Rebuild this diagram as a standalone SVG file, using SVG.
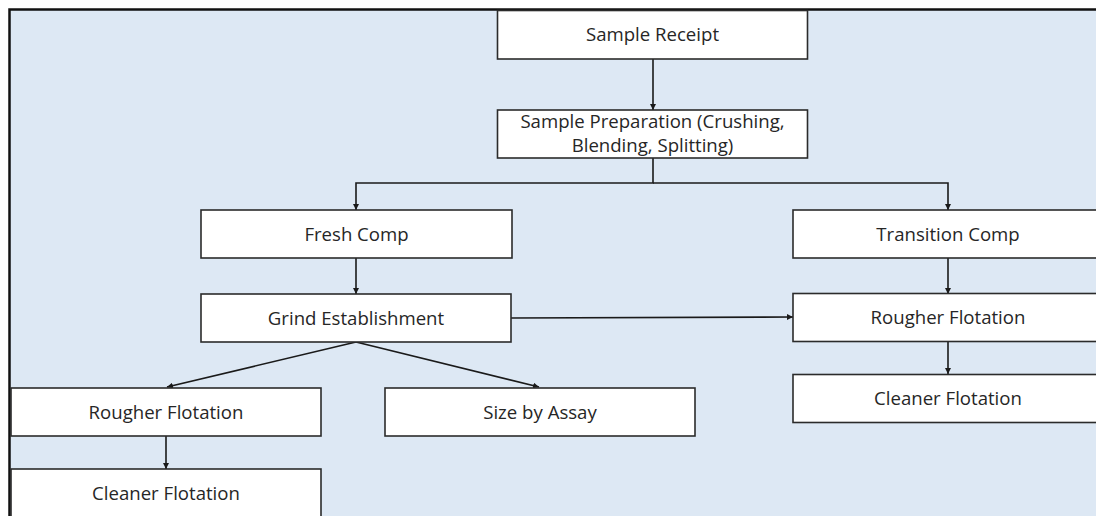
<svg xmlns="http://www.w3.org/2000/svg" width="1096" height="516" viewBox="0 0 1096 516">
<style>
.bx{fill:#ffffff;stroke:#2b2b2b;stroke-width:1.6}
.t{font-family:"Open Sans","Liberation Sans",sans-serif;font-size:18.6px;fill:#262626;text-anchor:middle}
.c{fill:none;stroke:#1a1a1a;stroke-width:1.6}
</style>
<defs>
<marker id="ah" viewBox="0 0 10 10" refX="10" refY="5" markerWidth="6" markerHeight="6" markerUnits="userSpaceOnUse" orient="auto">
<path d="M0,0 L10,5 L0,10 z" fill="#1a1a1a"/>
</marker>
</defs>
<rect x="0" y="0" width="1096" height="516" fill="#ffffff"/>
<rect id="panel" x="9.5" y="9.5" width="1100" height="520" fill="#dde8f4" stroke="#111" stroke-width="2.5"/>
<g id="connectors">
<line class="c" x1="653" y1="59" x2="653" y2="110" marker-end="url(#ah)"/>
<polyline class="c" points="653,158 653,183 356,183 356,210" marker-end="url(#ah)"/>
<polyline class="c" points="653,183 948,183 948,210" marker-end="url(#ah)"/>
<line class="c" x1="356" y1="258" x2="356" y2="294" marker-end="url(#ah)"/>
<line class="c" x1="948" y1="258" x2="948" y2="294" marker-end="url(#ah)"/>
<line class="c" x1="511" y1="318" x2="793" y2="317" marker-end="url(#ah)"/>
<line class="c" x1="948" y1="341" x2="948" y2="374" marker-end="url(#ah)"/>
<line class="c" x1="356" y1="342" x2="167" y2="387" marker-end="url(#ah)"/>
<line class="c" x1="356" y1="342" x2="539" y2="387" marker-end="url(#ah)"/>
<line class="c" x1="166" y1="436" x2="166" y2="469" marker-end="url(#ah)"/>
</g>
<g id="sample-receipt"><rect class="bx" x="497.5" y="10.5" width="310" height="48.5"/><text class="t" x="652.5" y="41">Sample Receipt</text></g>
<g id="sample-prep"><rect class="bx" x="497.5" y="110" width="310" height="48"/><text class="t" x="652.5" y="128">Sample Preparation (Crushing,</text><text class="t" x="652.5" y="152">Blending, Splitting)</text></g>
<g id="fresh-comp"><rect class="bx" x="201" y="210" width="311" height="48"/><text class="t" x="356.5" y="240.5">Fresh Comp</text></g>
<g id="transition-comp"><rect class="bx" x="793" y="210" width="311" height="48"/><text class="t" x="948" y="240.5">Transition Comp</text></g>
<g id="grind"><rect class="bx" x="201" y="294" width="310" height="48"/><text class="t" x="356" y="324.5">Grind Establishment</text></g>
<g id="rougher-right"><rect class="bx" x="793" y="293.5" width="311" height="48"/><text class="t" x="948" y="324">Rougher Flotation</text></g>
<g id="cleaner-right"><rect class="bx" x="793" y="374.5" width="311" height="48"/><text class="t" x="948" y="405">Cleaner Flotation</text></g>
<g id="rougher-left"><rect class="bx" x="11" y="388" width="310" height="48"/><text class="t" x="166" y="418.5">Rougher Flotation</text></g>
<g id="size-by-assay"><rect class="bx" x="385" y="388" width="310" height="48"/><text class="t" x="540" y="418.5">Size by Assay</text></g>
<g id="cleaner-left"><rect class="bx" x="11" y="469" width="310" height="60"/><text class="t" x="166" y="499.5">Cleaner Flotation</text></g>
</svg>
